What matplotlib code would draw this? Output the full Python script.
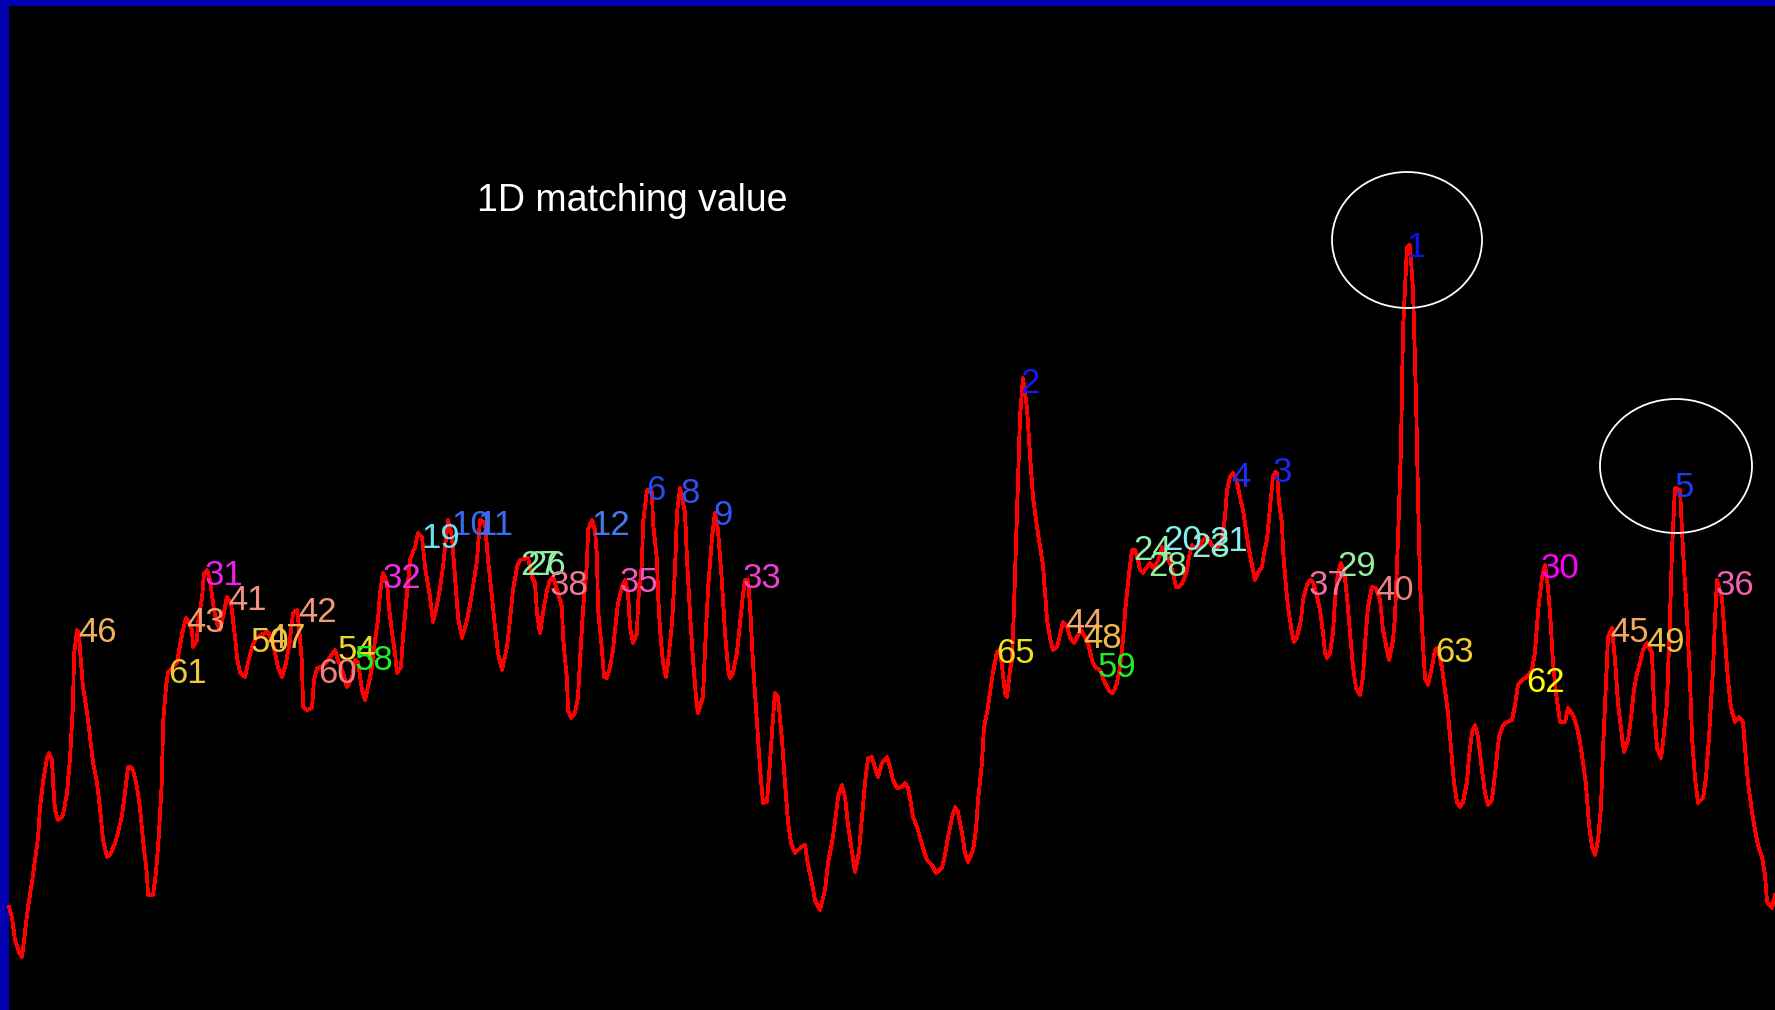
import matplotlib
matplotlib.use("Agg")
import matplotlib.pyplot as plt
from matplotlib.patches import Ellipse

# sample position (px along the scan) and matching curve (screen row, top = 0)
scan_x = [9, 12, 15, 19, 22, 25, 28, 32, 35, 38, 40, 43, 47, 49, 52, 53, 55, 58, 61, 63, 67, 70, 73, 74, 77, 79,
          80, 83, 87, 90, 93, 97, 100, 103, 107, 110, 115, 118, 122, 125, 128, 131, 133, 137, 140, 143, 147, 148,
          153, 156, 159, 162, 163, 166, 168, 172, 177, 180, 183, 186, 189, 192, 193, 197, 198, 202, 204, 207, 210,
          212, 214, 217, 220, 223, 225, 227, 231, 233, 235, 237, 240, 245, 248, 252, 255, 258, 263, 268, 272, 275,
          278, 282, 286, 290, 293, 297, 299, 302, 303, 307, 312, 314, 317, 322, 328, 335, 338, 343, 347, 352, 355,
          358, 362, 365, 368, 372, 375, 378, 380, 383, 387, 389, 392, 395, 397, 401, 403, 407, 410, 415, 418, 422,
          425, 430, 433, 437, 440, 443, 445, 448, 452, 455, 458, 462, 467, 470, 473, 477, 480, 485, 488, 492, 495,
          498, 502, 507, 510, 513, 517, 520, 528, 532, 535, 537, 540, 543, 547, 550, 553, 558, 562, 563, 567, 568,
          571, 575, 578, 580, 583, 587, 588, 592, 595, 597, 598, 602, 604, 607, 610, 613, 615, 618, 622, 625, 628,
          630, 633, 637, 638, 642, 643, 647, 652, 653, 657, 658, 660, 663, 666, 668, 672, 675, 677, 680, 685, 687,
          690, 693, 696, 698, 703, 705, 708, 712, 715, 718, 722, 725, 728, 730, 733, 737, 740, 743, 745, 748, 750,
          753, 757, 760, 763, 767, 770, 773, 775, 778, 782, 785, 788, 791, 795, 800, 805, 808, 812, 815, 820, 825,
          828, 832, 835, 838, 842, 845, 848, 852, 855, 859, 862, 865, 868, 872, 875, 878, 882, 887, 890, 893, 897,
          902, 905, 908, 910, 913, 917, 920, 923, 927, 932, 936, 942, 945, 948, 952, 955, 958, 962, 965, 968, 973,
          976, 978, 982, 984, 987, 990, 993, 997, 1000, 1003, 1005, 1007, 1010, 1012, 1014, 1017, 1020, 1023, 1027,
          1030, 1033, 1036, 1039, 1043, 1045, 1047, 1050, 1053, 1057, 1060, 1063, 1067, 1070, 1074, 1077, 1081,
          1085, 1088, 1092, 1095, 1100, 1105, 1110, 1113, 1117, 1120, 1123, 1125, 1128, 1132, 1135, 1138, 1140,
          1143, 1147, 1150, 1153, 1157, 1160, 1162, 1166, 1170, 1173, 1176, 1179, 1183, 1187, 1189, 1192, 1195,
          1200, 1203, 1207, 1210, 1215, 1218, 1222, 1225, 1227, 1230, 1233, 1237, 1240, 1243, 1246, 1249, 1253,
          1255, 1258, 1262, 1264, 1267, 1270, 1273, 1275, 1277, 1279, 1282, 1283, 1286, 1288, 1292, 1294, 1297,
          1301, 1303, 1307, 1310, 1313, 1317, 1320, 1323, 1325, 1327, 1330, 1333, 1335, 1338, 1341, 1344, 1347,
          1350, 1353, 1356, 1360, 1363, 1365, 1368, 1372, 1376, 1380, 1383, 1387, 1389, 1393, 1395, 1398, 1401,
          1403, 1407, 1410, 1413, 1416, 1418, 1420, 1423, 1425, 1428, 1432, 1435, 1438, 1442, 1445, 1448, 1451,
          1454, 1457, 1460, 1463, 1467, 1469, 1472, 1475, 1478, 1482, 1485, 1488, 1492, 1496, 1499, 1503, 1507,
          1512, 1515, 1518, 1522, 1527, 1532, 1535, 1538, 1542, 1545, 1548, 1551, 1553, 1556, 1560, 1565, 1568,
          1573, 1577, 1580, 1583, 1586, 1589, 1592, 1595, 1598, 1601, 1603, 1606, 1608, 1612, 1615, 1618, 1622,
          1624, 1628, 1631, 1634, 1637, 1640, 1643, 1647, 1652, 1654, 1657, 1661, 1663, 1667, 1670, 1672, 1675,
          1680, 1683, 1687, 1690, 1692, 1695, 1698, 1703, 1706, 1709, 1713, 1715, 1717, 1722, 1725, 1728, 1731,
          1735, 1739, 1743, 1745, 1748, 1752, 1755, 1758, 1762, 1765, 1767, 1772, 1775]
match_row = [907, 918, 940, 952, 957, 932, 907, 882, 860, 838, 808, 782, 758, 753, 760, 782, 810, 820, 818, 815, 793,
             758, 705, 655, 630, 633, 650, 687, 712, 737, 762, 783, 808, 840, 857, 855, 843, 833, 815, 793, 767, 767,
             770, 787, 808, 840, 875, 895, 895, 873, 833, 778, 723, 687, 672, 668, 663, 645, 630, 618, 622, 630, 647,
             640, 623, 598, 573, 570, 580, 595, 610, 623, 630, 617, 607, 597, 603, 620, 637, 657, 673, 677, 663, 647,
             640, 637, 634, 632, 640, 653, 667, 677, 663, 640, 613, 610, 627, 663, 707, 710, 708, 680, 668, 667, 660,
             650, 660, 673, 687, 678, 660, 662, 690, 700, 687, 667, 640, 620, 593, 573, 583, 607, 633, 653, 673, 667,
             637, 593, 560, 547, 533, 537, 567, 597, 622, 605, 588, 567, 547, 520, 537, 577, 617, 638, 620, 605, 587,
             560, 520, 523, 560, 597, 627, 653, 670, 647, 620, 590, 567, 560, 558, 577, 583, 613, 633, 613, 590, 580,
             577, 593, 607, 637, 680, 710, 718, 713, 697, 660, 610, 563, 530, 520, 530, 557, 610, 650, 677, 678, 667,
             650, 630, 603, 587, 580, 593, 627, 643, 633, 603, 563, 523, 490, 492, 523, 560, 593, 630, 663, 677, 663,
             623, 570, 513, 488, 512, 560, 613, 660, 697, 713, 697, 650, 590, 537, 513, 530, 583, 633, 668, 678, 673,
             652, 623, 595, 580, 580, 605, 663, 723, 768, 803, 802, 762, 718, 693, 697, 740, 783, 822, 843, 853, 848,
             845, 865, 883, 900, 910, 890, 863, 843, 822, 797, 785, 797, 825, 852, 872, 852, 817, 783, 758, 757, 768,
             777, 763, 757, 767, 780, 788, 787, 783, 788, 798, 817, 827, 837, 848, 860, 865, 873, 868, 855, 837, 818,
             807, 812, 833, 853, 862, 850, 830, 800, 763, 727, 713, 693, 672, 652, 650, 675, 693, 697, 670, 660, 607,
             513, 417, 378, 408, 455, 497, 520, 540, 565, 592, 620, 638, 650, 647, 635, 622, 627, 637, 643, 637, 630,
             637, 643, 660, 667, 670, 683, 692, 693, 683, 667, 640, 613, 582, 550, 550, 560, 570, 573, 567, 563, 568,
             563, 555, 547, 556, 563, 573, 587, 587, 582, 570, 557, 545, 548, 545, 540, 537, 542, 550, 547, 540, 517,
             490, 477, 473, 482, 497, 510, 530, 550, 570, 580, 573, 567, 553, 540, 507, 477, 472, 473, 503, 523, 550,
             587, 607, 633, 642, 637, 620, 600, 585, 580, 582, 597, 610, 633, 653, 658, 653, 633, 600, 573, 563, 570,
             597, 633, 667, 688, 695, 677, 643, 607, 587, 588, 600, 630, 650, 660, 640, 617, 538, 447, 330, 247, 245,
             290, 397, 497, 582, 645, 678, 685, 667, 650, 648, 668, 690, 713, 748, 783, 802, 807, 802, 782, 757, 732,
             725, 737, 770, 793, 805, 800, 765, 737, 725, 722, 720, 705, 685, 680, 677, 670, 652, 612, 577, 565, 587,
             627, 663, 693, 722, 722, 708, 715, 727, 742, 762, 785, 825, 847, 855, 840, 807, 750, 683, 637, 628, 660,
             703, 737, 752, 740, 718, 690, 673, 663, 650, 643, 653, 707, 748, 758, 743, 702, 617, 550, 488, 490, 550,
             617, 680, 737, 778, 803, 798, 778, 737, 670, 620, 580, 598, 640, 680, 708, 722, 717, 722, 748, 783, 812,
             830, 845, 857, 875, 902, 908, 895]

# peak rank labels: text, anchor (left, baseline) and colour
peak_text = ["1", "2", "3", "4", "5", "6", "8", "9", "10", "11", "12", "19", "20", "21", "23", "24", "27", "26",
             "28", "29", "30", "31", "32", "33", "35", "36", "37", "38", "40", "41", "42", "43", "44", "45", "46",
             "47", "48", "49", "50", "54", "65", "58", "59", "60", "61", "62", "63"]
peak_x = [1406, 1020, 1273, 1231, 1675, 646, 680, 713, 451, 477, 591, 421, 1163, 1209, 1191, 1133, 520, 527,
          1148, 1337, 1541, 205, 383, 743, 620, 1716, 1309, 550, 1375, 228, 298, 186, 1065, 1610, 78,
          267, 1083, 1646, 251, 338, 996, 355, 1098, 318, 168, 1526, 1435]
peak_y = [257, 393, 482, 487, 497, 500, 503, 525, 535, 535, 535, 548, 550, 551, 557, 560, 575, 575,
          576, 576, 578, 585, 588, 588, 592, 595, 595, 595, 600, 610, 622, 632, 633, 642, 642,
          648, 648, 652, 652, 660, 663, 670, 677, 683, 683, 692, 662]
peak_color = ["#1010F0", "#1818F0", "#1828F0", "#1830F0", "#2038F0", "#2848F0", "#3050F0", "#3058F0", "#3868F0",
              "#3C6CF0", "#4878F0", "#70E0F0", "#80F0F0", "#88F0F0", "#90F0C8", "#90F0B0", "#90F0A0", "#90F0A8",
              "#90F0A0", "#90F0A0", "#FF00FF", "#F020F0", "#F030E0", "#F040D0", "#F058C0", "#F060B0", "#F070A0",
              "#F07890", "#F08080", "#F09080", "#F09878", "#F0A070", "#F0A868", "#F0A860", "#F0B060", "#F0B850",
              "#F0B848", "#F0C048", "#F0C840", "#F0D828", "#F0E020", "#20F020", "#20F020", "#F08080", "#F0C830",
              "#FFFF00", "#F0D030"]

W, H = 1775, 1010
fig = plt.figure(figsize=(W / 100, H / 100), dpi=100, facecolor="black")
ax = fig.add_axes([0, 0, 1, 1])
ax.set_facecolor("black")
ax.set_xlim(0, W)
ax.set_ylim(H, 0)
ax.axis("off")

# window frame
ax.axvspan(0, 9, color="#0000B0", lw=0)
ax.axhspan(0, 6, color="#0000B0", lw=0)

font = ["Liberation Sans Narrow", "Liberation Sans", "DejaVu Sans"]

ax.plot(scan_x, match_row, color="#FF0000", lw=2.0, antialiased=False, zorder=3)

for t, x, y, c in zip(peak_text, peak_x, peak_y, peak_color):
    ax.text(x, y, t, color=c, fontsize=25, family=font, ha="left", va="baseline", zorder=4)

ax.text(477, 211, "1D matching value", color="white", fontsize=27, family=font,
        ha="left", va="baseline")

# highlight the two best matches
for cx, cy, w, h in [(1407, 240, 150, 136), (1676, 466, 152, 134)]:
    ax.add_patch(Ellipse((cx, cy), w, h, fill=False, ec="white", lw=1.3, zorder=5))

fig.savefig("out.png", dpi=100, facecolor="black")
